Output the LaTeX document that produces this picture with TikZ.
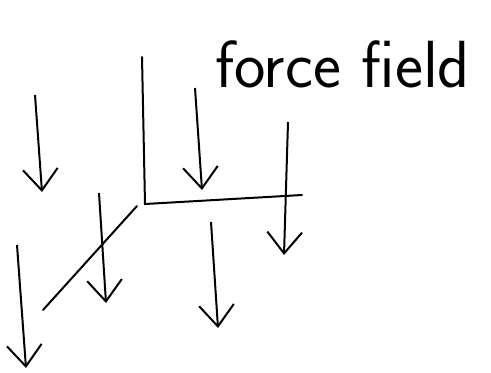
\documentclass[tikz,border=0pt]{standalone}
\usepackage{tikz}
\usetikzlibrary{arrows.meta}

\begin{document}
\begin{tikzpicture}[x=0.75pt, y=-0.75pt, line width=1.5pt,
    fieldarrow/.style={-{Straight Barb[length=16pt, width=26pt, line width=1.5pt]}},
    axis/.style={line cap=round}]
        \useasboundingbox (0,0) rectangle (491,372);
        % axes
        \coordinate (origin) at (145,204);
        \coordinate (zend) at (142,57);
        \coordinate (xend) at (302,195);
        \coordinate (yend) at (43,310);
        \draw[axis] (zend) -- (origin) -- (xend);
        \draw[axis] (137,206) -- (yend);

        % field arrows
        \coordinate (a1) at (35,95);   \coordinate (b1) at (42,192);
        \coordinate (a2) at (195,88);  \coordinate (b2) at (202,190);
        \coordinate (a3) at (288,122); \coordinate (b3) at (284,255);
        \coordinate (a4) at (99,193);  \coordinate (b4) at (106,303);
        \coordinate (a5) at (211,222); \coordinate (b5) at (218,328);
        \coordinate (a6) at (17,245);  \coordinate (b6) at (26,368);
        \draw[fieldarrow] (a1) -- (b1);
        \draw[fieldarrow] (a2) -- (b2);
        \draw[fieldarrow] (a3) -- (b3);
        \draw[fieldarrow] (a4) -- (b4);
        \draw[fieldarrow] (a5) -- (b5);
        \draw[fieldarrow] (a6) -- (b6);

        \node[anchor=base west, inner sep=0pt] (title) at (214,87) {\fontsize{50}{54}\selectfont\sffamily force field};
    \end{tikzpicture}
\end{document}
